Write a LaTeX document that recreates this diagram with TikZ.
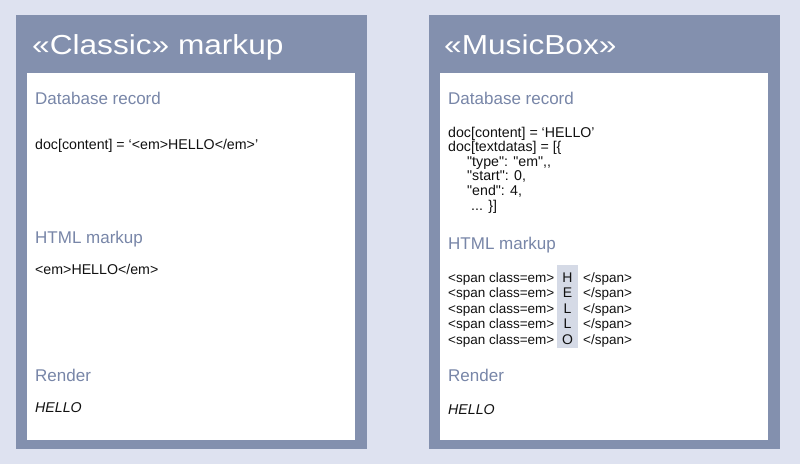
\documentclass[tikz,border=0pt]{standalone}
\usepackage{fontspec}
\setmainfont{Liberation Sans}[Ligatures=TeXOff]
\newfontfamily\titlefont[FakeStretch=1.15]{Liberation Sans}
\definecolor{bgcol}{RGB}{222,226,240}
\definecolor{panelcol}{RGB}{131,144,174}
\definecolor{headcol}{RGB}{120,134,168}
\definecolor{hlcol}{RGB}{213,218,230}
\definecolor{txtcol}{RGB}{17,17,17}
\tikzset{
  ttl/.style={anchor=base west, inner sep=0pt, text=white, font=\titlefont\fontsize{27.5}{30}\selectfont},
  head/.style={anchor=base west, inner sep=0pt, text=headcol, font=\fontsize{17}{19}\selectfont},
  body/.style={anchor=base west, inner sep=0pt, text=txtcol, font=\fontsize{14.2}{14.6}\selectfont},
  spantxt/.style={anchor=base west, inner sep=0pt, text=txtcol, font=\fontsize{13.5}{14.6}\selectfont},
  letter/.style={anchor=base, inner sep=0pt, text=txtcol, font=\fontsize{14}{14.6}\selectfont},
}
\begin{document}
\begin{tikzpicture}[x=1pt,y=-1pt]
\useasboundingbox (0,0) rectangle (800,464);
\fill[bgcol] (0,0) rectangle (800,464);
% left panel
\fill[panelcol] (16,15) rectangle (367,449);
\fill[white] (27,73) rectangle (355,440);
% right panel
\fill[panelcol] (429,15) rectangle (780,449);
\fill[white] (440,73) rectangle (768,440);
% highlight column
\fill[hlcol] (557,265) rectangle (578,348);

% left content
\node[ttl] (t1) at (32,54) {«Classic» markup};
\node[head] (h1a) at (35,104) {Database record};
\node[body] (l1) at (35,149) {doc[content] = ‘<em>HELLO</em>’};
\node[head] (h1b) at (35,243) {HTML markup};
\node[body] (l2) at (35,274) {<em>HELLO</em>};
\node[head] (h1c) at (35,381) {Render};
\node[body, font=\fontsize{14.2}{14.6}\selectfont\itshape] (l3) at (35,412) {HELLO};

% right content
\node[ttl] (t2) at (444,54) {«MusicBox»};
\node[head] (h2a) at (448,104) {Database record};
\node[body] (r1) at (448,137) {doc[content] = ‘HELLO’};
\node[body] (r2) at (448,151.6) {doc[textdatas] = [\{};
\node[body] (r3) at (467,166.2) {"type": "em",,};
\node[body] (r4) at (467,180.8) {"start": 0,};
\node[body] (r5) at (467,195.4) {"end": 4,};
\node[body] (r6) at (471,210) {... \}]};
\node[head] (h2b) at (448,249) {HTML markup};
\foreach \y/\c [count=\i] in {282/H,297.5/E,313/L,328.5/L,344/O}{
  \node[spantxt] (sa\i) at (448,\y) {<span class=em>};
  \node[letter] (sl\i) at (567.5,\y) {\c};
  \node[spantxt] (sb\i) at (583,\y) {</span>};
}
\node[head] (h2c) at (448,381) {Render};
\node[body, font=\fontsize{14.2}{14.6}\selectfont\itshape] (r7) at (448,414) {HELLO};
\end{tikzpicture}
\end{document}
